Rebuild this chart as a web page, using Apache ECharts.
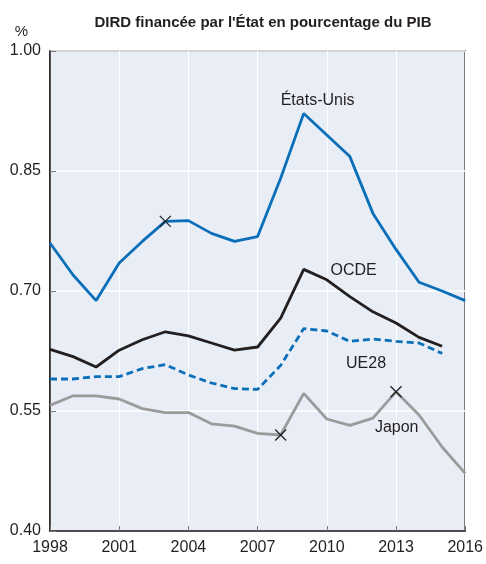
<!doctype html>
<html>
<head>
<meta charset="UTF-8">
<title>DIRD financée par l'État</title>
<script src="https://cdn.jsdelivr.net/npm/echarts@6/dist/echarts.min.js"></script>
<style>
  html, body { margin: 0; padding: 0; background: #fff; }
  #chart { width: 486px; height: 564px; }
</style>
</head>
<body>
<div id="chart"></div>
<script>
// années
var years = [1998, 1999, 2000, 2001, 2002, 2003, 2004, 2005, 2006, 2007, 2008, 2009, 2010, 2011, 2012, 2013, 2014, 2015, 2016];
// valeurs (% du PIB)
var etatsUnis = [0.760, 0.720, 0.688, 0.735, 0.762, 0.787, 0.788, 0.772, 0.762, 0.768, 0.841, 0.922, 0.895, 0.868, 0.797, 0.752, 0.711, 0.700, 0.688];
var ocde = [0.627, 0.618, 0.605, 0.626, 0.639, 0.649, 0.644, 0.635, 0.626, 0.630, 0.666, 0.727, 0.714, 0.693, 0.674, 0.660, 0.642, 0.631];
var ue28 = [0.590, 0.590, 0.593, 0.593, 0.603, 0.608, 0.595, 0.585, 0.578, 0.577, 0.607, 0.653, 0.650, 0.637, 0.640, 0.637, 0.635, 0.622];
var japon = [0.557, 0.569, 0.569, 0.565, 0.553, 0.548, 0.548, 0.534, 0.531, 0.522, 0.520, 0.572, 0.540, 0.532, 0.541, 0.574, 0.545, 0.505, 0.472];
// points marqués d'une croix
var croixUS = [2003];
var croixJapon = [2008, 2013];
var yTicks = [0.40, 0.55, 0.70, 0.85, 1.00];

var FONT = '"Liberation Sans Narrow", "Liberation Sans", Arial, sans-serif';
var CROSS = 'path://M0,0L10,10M10,0L0,10';

function toPoints(vals, crosses) {
  var out = [];
  for (var i = 0; i < vals.length; i++) {
    var item = { value: [years[i], vals[i]] };
    if (crosses && crosses.indexOf(years[i]) >= 0) {
      item.symbol = CROSS;
      item.symbolSize = 11;
      item.itemStyle = { color: 'none', borderColor: '#222', borderWidth: 1.3 };
    }
    out.push(item);
  }
  return out;
}

// étiquette de série placée en coordonnées du graphique
function label(name, x, y) {
  return {
    symbol: 'circle', symbolSize: 1,
    itemStyle: { color: 'rgba(0,0,0,0)' },
    silent: true,
    data: [{ coord: [x, y], label: { show: true, formatter: name, color: '#231f20', fontFamily: FONT, fontSize: 16, position: 'inside' } }]
  };
}

var chart = echarts.init(document.getElementById('chart'));
chart.setOption({
  animation: false,
  title: {
    text: "DIRD financée par l'État en pourcentage du PIB",
    left: 258, top: 10, textAlign: 'center',
    textStyle: { fontFamily: FONT, fontSize: 15, fontWeight: 'bold', color: '#231f20' }
  },
  grid: {
    left: 50, right: 18, top: 51, bottom: 33,
    show: true, backgroundColor: '#e9edf6', borderColor: '#231f20', borderWidth: 1.5
  },
  xAxis: {
    type: 'value', min: 1998, max: 2016, interval: 3,
    axisLine: { show: true, lineStyle: { color: '#231f20', width: 1.5 } },
    axisTick: { show: true, inside: true, length: 5, lineStyle: { color: '#777' } },
    splitLine: { show: true, lineStyle: { color: '#fff', width: 1 } },
    axisLabel: { color: '#231f20', fontFamily: FONT, fontSize: 16, margin: 9, formatter: function (v) { return String(v); } }
  },
  yAxis: {
    type: 'value', min: yTicks[0], max: yTicks[yTicks.length - 1], interval: 0.15,
    name: '%', nameLocation: 'end', nameGap: 12,
    nameTextStyle: { color: '#231f20', fontFamily: FONT, fontSize: 15, align: 'right', padding: [0, 22, 0, 0] },
    axisLine: { show: true, lineStyle: { color: '#231f20', width: 1.5 } },
    axisTick: { show: true, inside: true, length: 6, lineStyle: { color: '#777' } },
    splitLine: { show: true, lineStyle: { color: '#fff', width: 1.5 } },
    axisLabel: { color: '#231f20', fontFamily: FONT, fontSize: 16, margin: 9, formatter: function (v) { return v.toFixed(2); } }
  },
  series: [
    {
      name: 'Japon', type: 'line', symbol: 'none', data: toPoints(japon, croixJapon),
      lineStyle: { color: '#9b9b9b', width: 2.8 }, z: 2,
      markPoint: label('Japon', 2013.03, 0.529)
    },
    {
      name: 'UE28', type: 'line', symbol: 'none', data: toPoints(ue28),
      lineStyle: { color: '#0a6fb8', width: 2.8, type: [7, 4] }, z: 3,
      markPoint: label('UE28', 2011.7, 0.609)
    },
    {
      name: 'OCDE', type: 'line', symbol: 'none', data: toPoints(ocde),
      lineStyle: { color: '#231f20', width: 2.8 }, z: 4,
      markPoint: label('OCDE', 2011.16, 0.7254)
    },
    {
      name: 'États-Unis', type: 'line', symbol: 'none', data: toPoints(etatsUnis, croixUS),
      lineStyle: { color: '#0a6fb8', width: 2.8 }, z: 5,
      markPoint: label('États-Unis', 2009.6, 0.938)
    }
  ]
});
</script>
</body>
</html>
